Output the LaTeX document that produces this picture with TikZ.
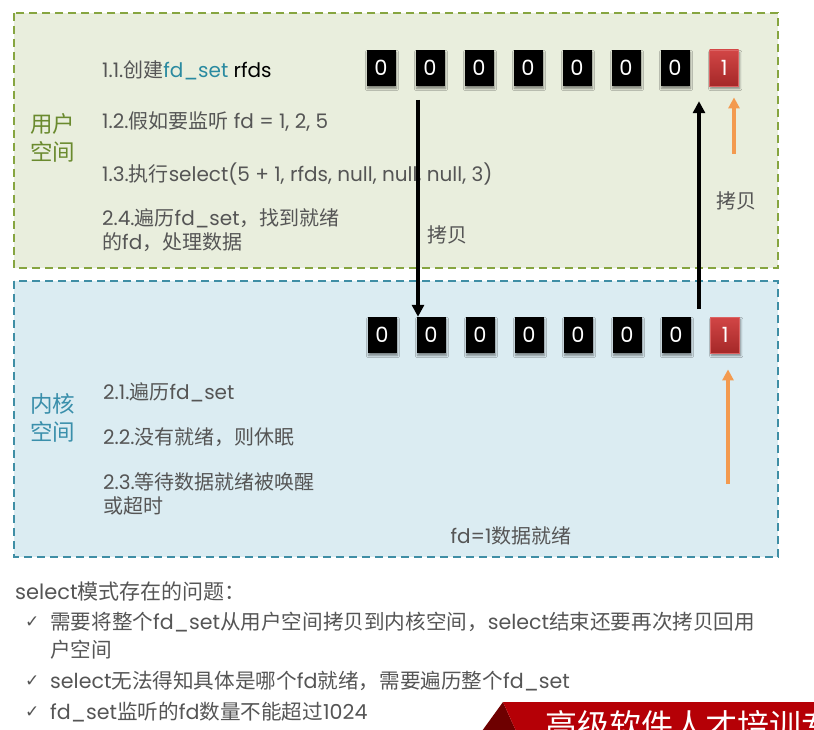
\documentclass[tikz,border=0pt]{standalone}
\usepackage{fontspec}
\setmainfont{Poppins}
\newfontfamily\cjkfont{Noto Sans CJK SC}
\newfontfamily\symfont{DejaVu Sans}
\usepackage{xcolor}
\usetikzlibrary{positioning,arrows.meta,shadows.blur}

% switch to the CJK font for Chinese characters
\XeTeXinterchartokenstate=1
\newXeTeXintercharclass\cjkclass
\count255="3000
\loop \XeTeXcharclass\count255=\cjkclass \ifnum\count255<"303F \advance\count255 by 1 \repeat
\count255="4E00
\loop \XeTeXcharclass\count255=\cjkclass \ifnum\count255<"9FFF \advance\count255 by 1 \repeat
\count255="FF00
\loop \XeTeXcharclass\count255=\cjkclass \ifnum\count255<"FFEF \advance\count255 by 1 \repeat
\XeTeXinterchartoks 0 \cjkclass = {\begingroup\cjkfont}
\XeTeXinterchartoks 4095 \cjkclass = {\begingroup\cjkfont}
\XeTeXinterchartoks \cjkclass 0 = {\endgroup}
\XeTeXinterchartoks \cjkclass 4095 = {\endgroup}

\definecolor{userfill}{HTML}{E9EEDD}
\definecolor{userline}{HTML}{86A540}
\definecolor{userword}{HTML}{6A8A2E}
\definecolor{kernfill}{HTML}{DBECF2}
\definecolor{kernline}{HTML}{3F8EA5}
\definecolor{kernword}{HTML}{3A8FAB}
\definecolor{textgray}{HTML}{555555}
\definecolor{fdteal}{HTML}{2A8AA0}
\definecolor{hitorange}{HTML}{F39A4F}
\definecolor{bannerred}{HTML}{B50006}
\definecolor{bannerdark}{HTML}{6E0000}

\begin{document}
\begin{tikzpicture}[
    x=1pt, y=-1pt,
    font=\fontsize{20}{24}\selectfont,
    space_box/.style={dashed, dash pattern=on 8pt off 5pt, line width=1.5pt},
    user_box/.style={space_box, fill=userfill, draw=userline},
    kern_box/.style={space_box, fill=kernfill, draw=kernline},
    bit/.style={minimum width=29pt, minimum height=36pt, inner sep=0pt, text=white,
                font=\fontsize{21}{21}\selectfont,
                blur shadow={shadow xshift=1pt, shadow yshift=-2.5pt, shadow blur steps=5, shadow opacity=45}},
    bit_zero/.style={bit, fill=black},
    bit_one/.style={bit, top color={rgb,255:red,210;green,70;blue,70}, bottom color={rgb,255:red,165;green,40;blue,40},
                    draw={rgb,255:red,220;green,100;blue,100}, line width=0.8pt},
    note/.style={anchor=west, inner sep=0pt, text=textgray, align=left},
    copy_arrow/.style={-{Triangle[length=12pt,width=12pt]}, line width=3.6pt, draw=black},
    hit_arrow/.style={-{Triangle[length=11pt,width=11pt]}, line width=3.4pt, draw=hitorange},
    bit_gap/.style={right=19.6pt of #1}
]
\useasboundingbox (0,0) rectangle (814,730);

% user space and kernel space
\draw [user_box] (14,13) rectangle (778,268);
\draw [kern_box] (14,281) rectangle (778,557);

\node (userlbl) [text=userword, font=\fontsize{22.5}{28}\selectfont, align=center] at (53,138) {用户\\空间};
\node (kernlbl) [text=kernword, font=\fontsize{22.5}{28}\selectfont, align=center] at (53,418) {内核\\空间};

% user side steps
\node (s11) [note] at (102,70)  {1.1.创建\textcolor{fdteal}{fd\_set} \textcolor{black}{rfds}};
\node (s12) [note] at (102,122) {1.2.假如要监听 fd = 1, 2, 5};
\node (s13) [note] at (102,174) {1.3.执行select(5 + 1, rfds, null, null, null, 3)};
\node (s24) [note] at (102,230) {2.4.遍历fd\_set，找到就绪\\的fd，处理数据};

% kernel side steps
\node (s21) [note] at (103,392) {2.1.遍历fd\_set};
\node (s22) [note] at (103,437) {2.2.没有就绪，则休眠};
\node (s23) [note] at (103,494) {2.3.等待数据就绪被唤醒\\或超时};
\node (ready) [note, anchor=center] at (511,536) {fd=1数据就绪};

% fd_set in user space
\node (u1) [bit_zero] at (381,68) {0};
\node (u2) [bit_zero, bit_gap=u1] {0};
\node (u3) [bit_zero, bit_gap=u2] {0};
\node (u4) [bit_zero, bit_gap=u3] {0};
\node (u5) [bit_zero, bit_gap=u4] {0};
\node (u6) [bit_zero, bit_gap=u5] {0};
\node (u7) [bit_zero, bit_gap=u6] {0};
\node (u8) [bit_one,  bit_gap=u7] {1};

% fd_set in kernel space
\node (k1) [bit_zero] at (382,335) {0};
\node (k2) [bit_zero, bit_gap=k1] {0};
\node (k3) [bit_zero, bit_gap=k2] {0};
\node (k4) [bit_zero, bit_gap=k3] {0};
\node (k5) [bit_zero, bit_gap=k4] {0};
\node (k6) [bit_zero, bit_gap=k5] {0};
\node (k7) [bit_zero, bit_gap=k6] {0};
\node (k8) [bit_one,  bit_gap=k7] {1};

% copies between the two spaces
\coordinate (cpdown) at (418,100);
\coordinate (cpup)   at (699,309);
\draw [copy_arrow] (cpdown) -- (cpdown |- k2.north);
\draw [copy_arrow] (cpup) -- ([yshift=-15pt]cpup |- u7.south);
\node (cplbl1) [text=textgray] at (447,235) {拷贝};
\node (cplbl2) [text=textgray] at (736,201) {拷贝};

% ready marks
\coordinate (hitu) at (734,154);
\coordinate (hitk) at (728,484);
\draw [hit_arrow] (hitu) -- ([yshift=-11pt]hitu |- u8.south);
\draw [hit_arrow] (hitk) -- ([yshift=-16pt]hitk |- k8.south);

% problems of select
\node (probs) [note, font=\fontsize{21}{26}\selectfont] at (15,591) {select模式存在的问题：};
\node (chk1) [note, font=\symfont\fontsize{17}{20}\selectfont] at (25,622) {✓};
\node (chk2) [note, font=\symfont\fontsize{17}{20}\selectfont] at (25,681) {✓};
\node (chk3) [note, font=\symfont\fontsize{17}{20}\selectfont] at (25,712) {✓};
\node (p1) [note, font=\fontsize{20.6}{28}\selectfont] at (50,636)
    {需要将整个fd\_set从用户空间拷贝到内核空间，select结束还要再次拷贝回用\\户空间};
\node (p2) [note, font=\fontsize{20.6}{26}\selectfont] at (50,681) {select无法得知具体是哪个fd就绪，需要遍历整个fd\_set};
\node (p3) [note, font=\fontsize{20.6}{26}\selectfont] at (50,712) {fd\_set监听的fd数量不能超过1024};

% banner
\begin{scope}
\clip (0,0) rectangle (814,730);
\fill [bannerdark] (482,731) -- (503,702) -- (516,731) -- cycle;
\fill [bannerred] (503,702) -- (815,702) -- (815,731) -- (516,731) -- cycle;
\node (banner) [anchor=north west, inner sep=0pt, text=white, font=\fontsize{32}{32}\selectfont] at (545,710) {高级软件人才培训专};
\end{scope}

\end{tikzpicture}
\end{document}
